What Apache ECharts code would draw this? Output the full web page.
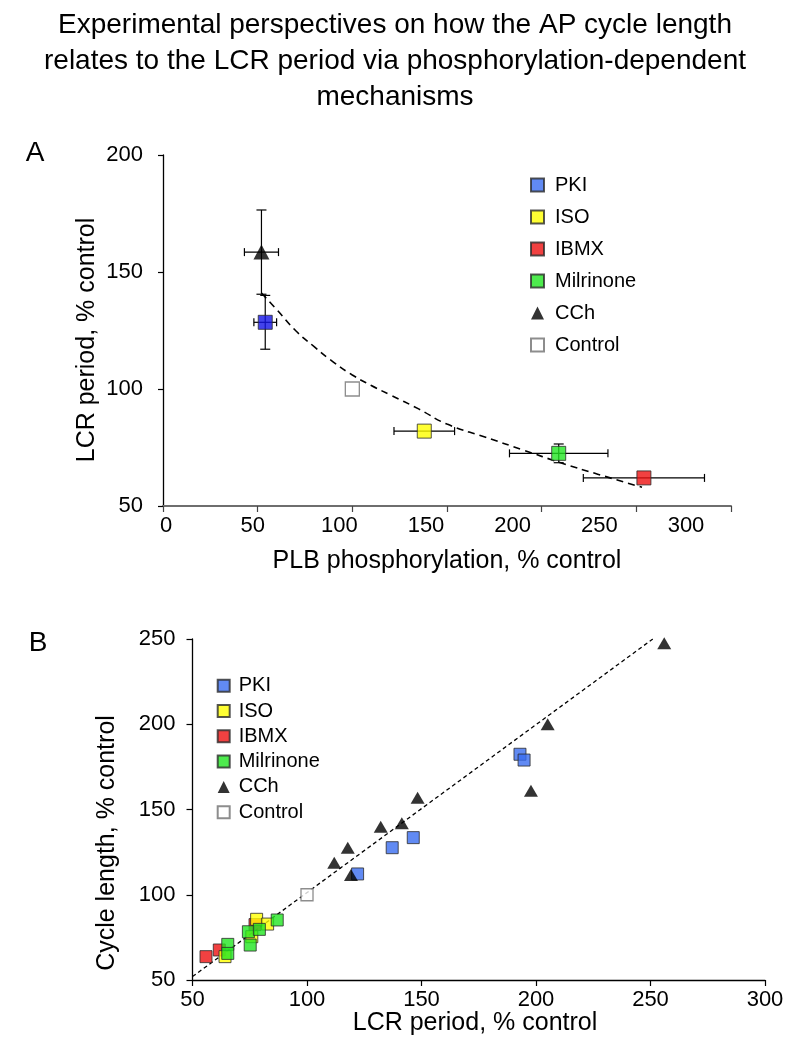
<!DOCTYPE html>
<html>
<head>
<meta charset="utf-8">
<script src="https://cdn.jsdelivr.net/npm/echarts@6/dist/echarts.min.js"></script>
<style>
html,body{margin:0;padding:0;background:#fff;}
#chart{width:790px;height:1050px;}
</style>
</head>
<body>
<div id="chart"></div>
<script>
// ---------- DATA ----------
const treatments = ['PKI', 'ISO', 'IBMX', 'Milrinone', 'CCh', 'Control'];

// Panel A: PLB phosphorylation vs LCR period (% control), mean ± error
const aPLB     = [54, 138, 254, 209, 52, 100];
const aLCR     = [128.5, 82, 62, 72.5, 158.5, 100];
const aPLBerr  = [6, 16, 32, 26, 9, 0];
const aLCRerr  = [11.5, 0, 0, 4, 18, 0];

// Panel A dashed fit curve
const fitPLB = [52, 60, 70, 80, 90, 100, 110, 120, 135, 150, 170, 190, 210, 230, 253];
const fitLCR = [141, 134, 125, 118, 111.5, 106, 101.5, 97.5, 91.5, 85, 79.5, 74, 68.5, 63.5, 58];

// Panel B: LCR period vs cycle length (% control)
const lcrPKI   = [146.4, 137.2, 122.1, 193, 194.8];
const cycPKI   = [133.5, 127.6, 112.2, 182.4, 179];
const lcrISO   = [64.2, 78, 82.8, 75.9];
const cycISO   = [63.7, 85.6, 82.8, 75.4];
const lcrIBMX  = [55.9, 61.7, 77.3];
const cycIBMX  = [63.7, 67.6, 82.5];
const lcrMil   = [65.4, 65.4, 74.4, 79.2, 75.2, 87];
const cycMil   = [70.9, 65.6, 78.3, 79.7, 70.5, 85.2];
const lcrCCh   = [256, 205.1, 197.8, 148.3, 141.4, 132.2, 117.8, 111.9, 119.2];
const cycCCh   = [247.5, 200, 161, 156.9, 141.9, 139.9, 127.6, 118.8, 111.6];
const lcrCtl   = [100];
const cycCtl   = [100];

// Panel B dashed identity-like line
const idLCR = [50, 251];
const idCyc = [52, 250];

// Tick label settings
const aXTicks = {min: 0, max: 300, interval: 50};
const aYTicks = {min: 50, max: 200, interval: 50};
const bXTicks = {min: 50, max: 300, interval: 50};
const bYTicks = {min: 50, max: 250, interval: 50};

// ---------- STYLE ----------
const FONT = 'Liberation Sans, Arial, sans-serif';
const colors = {
  PKI: '#3a6df0',
  ISO: '#ffff00',
  IBMX: '#ee1111',
  Milrinone: '#22e622',
  CCh: '#000000',
  Control: '#ffffff'
};
const zip = (a, b) => a.map((v, i) => [v, b[i]]);

function styleFor(name) {
  if (name === 'Control') return {color: '#ffffff', borderColor: '#707070', borderWidth: 1.3};
  if (name === 'CCh') return {color: '#000000', borderColor: '#000000', borderWidth: 0};
  return {color: colors[name], borderColor: '#2a2a2a', borderWidth: 1};
}

const chart = echarts.init(document.getElementById('chart'), null, {renderer: 'canvas'});

const series = [];

// Panel A fit curve
series.push({
  type: 'line', xAxisIndex: 0, yAxisIndex: 0, silent: true,
  data: zip(fitPLB, fitLCR), smooth: true, showSymbol: false, symbol: 'none',
  lineStyle: {color: '#000', width: 1.6, type: [7, 5]}, z: 1
});

// Panel A error bars
series.push({
  type: 'custom', xAxisIndex: 0, yAxisIndex: 0, silent: true, clip: false, z: 2,
  data: treatments.map((t, i) => [aPLB[i], aLCR[i], aPLBerr[i], aLCRerr[i]]),
  encode: {x: 0, y: 1},
  renderItem: function (params, api) {
    const x = api.value(0), y = api.value(1), ex = api.value(2), ey = api.value(3);
    const st = {stroke: '#000', lineWidth: 1.2};
    const ch = [];
    if (ex > 0) {
      const l = api.coord([x - ex, y]), r = api.coord([x + ex, y]);
      ch.push({type: 'line', shape: {x1: l[0], y1: l[1], x2: r[0], y2: r[1]}, style: st});
      ch.push({type: 'line', shape: {x1: l[0], y1: l[1] - 4, x2: l[0], y2: l[1] + 4}, style: st});
      ch.push({type: 'line', shape: {x1: r[0], y1: r[1] - 4, x2: r[0], y2: r[1] + 4}, style: st});
    }
    if (ey > 0) {
      const t = api.coord([x, y + ey]), b = api.coord([x, y - ey]);
      ch.push({type: 'line', shape: {x1: t[0], y1: t[1], x2: b[0], y2: b[1]}, style: st});
      ch.push({type: 'line', shape: {x1: t[0] - 5, y1: t[1], x2: t[0] + 5, y2: t[1]}, style: st});
      ch.push({type: 'line', shape: {x1: b[0] - 5, y1: b[1], x2: b[0] + 5, y2: b[1]}, style: st});
    }
    return {type: 'group', children: ch};
  }
});

// Panel A points
treatments.forEach((t, i) => {
  const item = {value: [aPLB[i], aLCR[i]]};
  if (t === 'PKI') item.itemStyle = {color: '#1414e6'};
  series.push({
    name: t, type: 'scatter', xAxisIndex: 0, yAxisIndex: 0, z: 3,
    symbol: t === 'CCh' ? 'triangle' : 'rect',
    symbolSize: t === 'CCh' ? [16, 15] : 14,
    itemStyle: styleFor(t),
    data: [item]
  });
});

// Panel B identity line
series.push({
  type: 'line', xAxisIndex: 2, yAxisIndex: 2, silent: true,
  data: zip(idLCR, idCyc), showSymbol: false, symbol: 'none',
  lineStyle: {color: '#000', width: 1.3, type: [4, 3]}, z: 1
});

// Panel B points (draw order: IBMX, ISO, Milrinone, PKI, Control, CCh)
const bSets = [
  ['IBMX', lcrIBMX, cycIBMX],
  ['ISO', lcrISO, cycISO],
  ['Milrinone', lcrMil, cycMil],
  ['PKI', lcrPKI, cycPKI],
  ['Control', lcrCtl, cycCtl],
  ['CCh', lcrCCh, cycCCh]
];
bSets.forEach(([t, xs, ys]) => {
  series.push({
    name: t, type: 'scatter', xAxisIndex: 2, yAxisIndex: 2, z: 3,
    symbol: t === 'CCh' ? 'triangle' : 'rect',
    symbolSize: t === 'CCh' ? [14, 12] : 12,
    itemStyle: styleFor(t),
    data: zip(xs, ys)
  });
});

const axisText = {color: '#000', fontSize: 22, fontFamily: FONT};

const option = {
  animation: false,
  backgroundColor: '#fff',
  textStyle: {fontFamily: FONT, color: '#000'},
  title: {
    text: 'Experimental perspectives on how the AP cycle length\nrelates to the LCR period via phosphorylation-dependent\nmechanisms',
    left: 'center', top: 2,
    textStyle: {fontSize: 28, fontWeight: 'normal', lineHeight: 36, color: '#000', fontFamily: FONT}
  },
  grid: [
    {left: 163, top: 155, width: 568, height: 351},
    {left: 166, top: 155, width: 520, height: 351},
    {left: 192.5, top: 639, width: 572.5, height: 341}
  ],
  xAxis: [
    {gridIndex: 0, type: 'value', min: aXTicks.min, max: aXTicks.max, interval: aXTicks.interval,
     axisLine: {show: true, onZero: false, lineStyle: {color: '#6e6e6e', width: 2}},
     axisTick: {show: true, inside: false, length: 6, lineStyle: {color: '#444', width: 1.2}},
     axisLabel: {show: false}, splitLine: {show: false}},
    {gridIndex: 1, type: 'value', min: aXTicks.min, max: aXTicks.max, interval: aXTicks.interval,
     axisLine: {show: false}, axisTick: {show: false},
     axisLabel: Object.assign({show: true, margin: 9, showMinLabel: true, showMaxLabel: true}, axisText),
     splitLine: {show: false}},
    {gridIndex: 2, type: 'value', min: bXTicks.min, max: bXTicks.max, interval: bXTicks.interval,
     axisLine: {show: true, onZero: false, lineStyle: {color: '#000', width: 1.3}},
     axisTick: {show: true, inside: false, length: 6, lineStyle: {color: '#000', width: 1.2}},
     axisLabel: Object.assign({show: true, margin: 9, showMinLabel: true, showMaxLabel: true}, axisText),
     splitLine: {show: false}}
  ],
  yAxis: [
    {gridIndex: 0, type: 'value', min: aYTicks.min, max: aYTicks.max, interval: aYTicks.interval,
     axisLine: {show: true, onZero: false, lineStyle: {color: '#000', width: 1.3}},
     axisTick: {show: true, inside: false, length: 5, lineStyle: {color: '#000', width: 1.2}},
     axisLabel: Object.assign({show: true, margin: 20}, axisText), splitLine: {show: false}},
    {gridIndex: 1, type: 'value', min: 0, max: 1, show: false},
    {gridIndex: 2, type: 'value', min: bYTicks.min, max: bYTicks.max, interval: bYTicks.interval,
     axisLine: {show: true, onZero: false, lineStyle: {color: '#000', width: 1.3}},
     axisTick: {show: true, inside: false, length: 6, lineStyle: {color: '#000', width: 1.2}},
     axisLabel: Object.assign({show: true, margin: 17}, axisText), splitLine: {show: false}}
  ],
  legend: [
    {orient: 'vertical', left: 530, top: 175, padding: 0,
     itemWidth: 13, itemHeight: 13, itemGap: 12, data: treatments, selectedMode: false,
     textStyle: {fontSize: 20, lineHeight: 20, color: '#000', fontFamily: FONT, padding: [0, 0, 0, 6]}},
    {orient: 'vertical', left: 216.7, top: 675.7, padding: 0,
     itemWidth: 12, itemHeight: 12, itemGap: 5.3, data: treatments, selectedMode: false,
     textStyle: {fontSize: 20, lineHeight: 20, color: '#000', fontFamily: FONT, padding: [0, 0, 0, 4]}}
  ],
  graphic: [
    {type: 'text', x: 35, y: 153, style: {text: 'A', font: '28px ' + FONT, fill: '#000', textAlign: 'center', textVerticalAlign: 'middle'}},
    {type: 'text', x: 38, y: 643, style: {text: 'B', font: '28px ' + FONT, fill: '#000', textAlign: 'center', textVerticalAlign: 'middle'}},
    {type: 'text', x: 87, y: 340, rotation: Math.PI / 2, style: {text: 'LCR period, % control', font: '25px ' + FONT, fill: '#000', textAlign: 'center', textVerticalAlign: 'middle'}},
    {type: 'text', x: 447, y: 561, style: {text: 'PLB phosphorylation, % control', font: '25px ' + FONT, fill: '#000', textAlign: 'center', textVerticalAlign: 'middle'}},
    {type: 'text', x: 107, y: 843, rotation: Math.PI / 2, style: {text: 'Cycle length, % control', font: '25px ' + FONT, fill: '#000', textAlign: 'center', textVerticalAlign: 'middle'}},
    {type: 'text', x: 475, y: 1023, style: {text: 'LCR period, % control', font: '25px ' + FONT, fill: '#000', textAlign: 'center', textVerticalAlign: 'middle'}}
  ],
  series: series
};
chart.setOption(option);
</script>
</body>
</html>
